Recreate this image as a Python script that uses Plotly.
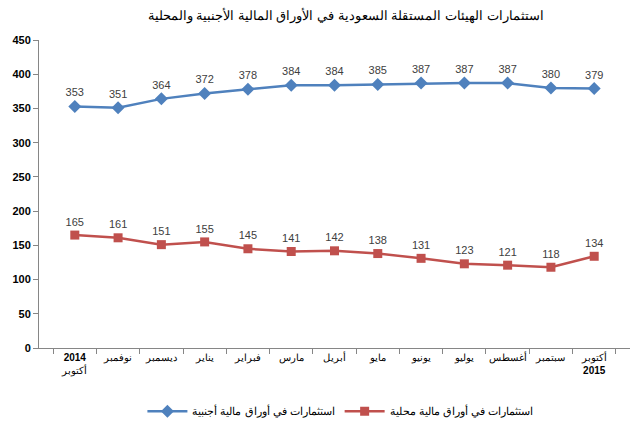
import plotly.graph_objects as go

months = ["2014<br>أكتوبر", "نوفمبر", "ديسمبر", "يناير", "فبراير", "مارس", "أبريل",
          "مايو", "يونيو", "يوليو", "أغسطس", "سبتمبر", "أكتوبر<br>2015"]
tick_text = ["<b>2014</b><br>أكتوبر", "نوفمبر", "ديسمبر", "يناير", "فبراير", "مارس", "أبريل",
             "مايو", "يونيو", "يوليو", "أغسطس", "سبتمبر", "أكتوبر<br><b>2015</b>"]
foreign = [353, 351, 364, 372, 378, 384, 384, 385, 387, 387, 387, 380, 379]
local = [165, 161, 151, 155, 145, 141, 142, 138, 131, 123, 121, 118, 134]
name_foreign = "استثمارات في أوراق مالية أجنبية"
name_local = "استثمارات في أوراق مالية محلية"
title = "استثمارات الهيئات المستقلة السعودية في الأوراق المالية الأجنبية والمحلية"

fig = go.Figure()
fig.add_trace(go.Scatter(
    x=months, y=foreign, name=name_foreign, mode="lines+markers+text",
    line=dict(color="#4F81BD", width=2.5),
    marker=dict(symbol="diamond", size=10, color="#4F81BD"),
    text=[str(v) for v in foreign], textposition="top center",
    textfont=dict(family="Arial", size=11, color="#404040"),
))
fig.add_trace(go.Scatter(
    x=months, y=local, name=name_local, mode="lines+markers+text",
    line=dict(color="#C0504D", width=2.5),
    marker=dict(symbol="square", size=9, color="#C0504D"),
    text=[str(v) for v in local], textposition="top center",
    textfont=dict(family="Arial", size=11, color="#404040"),
))

fig.update_layout(
    width=640, height=436,
    margin=dict(l=39, r=10, t=40, b=84),
    paper_bgcolor="white", plot_bgcolor="white",
    title=dict(text=title, x=0.54, y=0.965, xanchor="center", yanchor="middle",
               font=dict(family="Arial", size=13, color="#000000")),
    showlegend=True,
    legend=dict(orientation="h", x=0.51, y=-0.205, xanchor="center", yanchor="middle",
                font=dict(family="Arial", size=11, color="#000000"), traceorder="normal",
                itemwidth=40),
    xaxis=dict(
        tickmode="array", tickvals=months, ticktext=tick_text,
        tickson="boundaries", ticks="outside", ticklen=5, tickcolor="#868686",
        showline=True, linecolor="#868686", linewidth=1,
        showgrid=False, zeroline=False,
        tickfont=dict(family="Arial", size=10, color="#000000"),
        tickangle=0,
    ),
    yaxis=dict(
        range=[0, 450], dtick=50, ticks="outside", ticklen=5, tickcolor="#868686",
        showline=True, linecolor="#868686", linewidth=1,
        showgrid=False, zeroline=False,
        tickfont=dict(family="Arial", size=11, color="#000000", weight="bold"),
    ),
)
fig.write_html("out.html")
